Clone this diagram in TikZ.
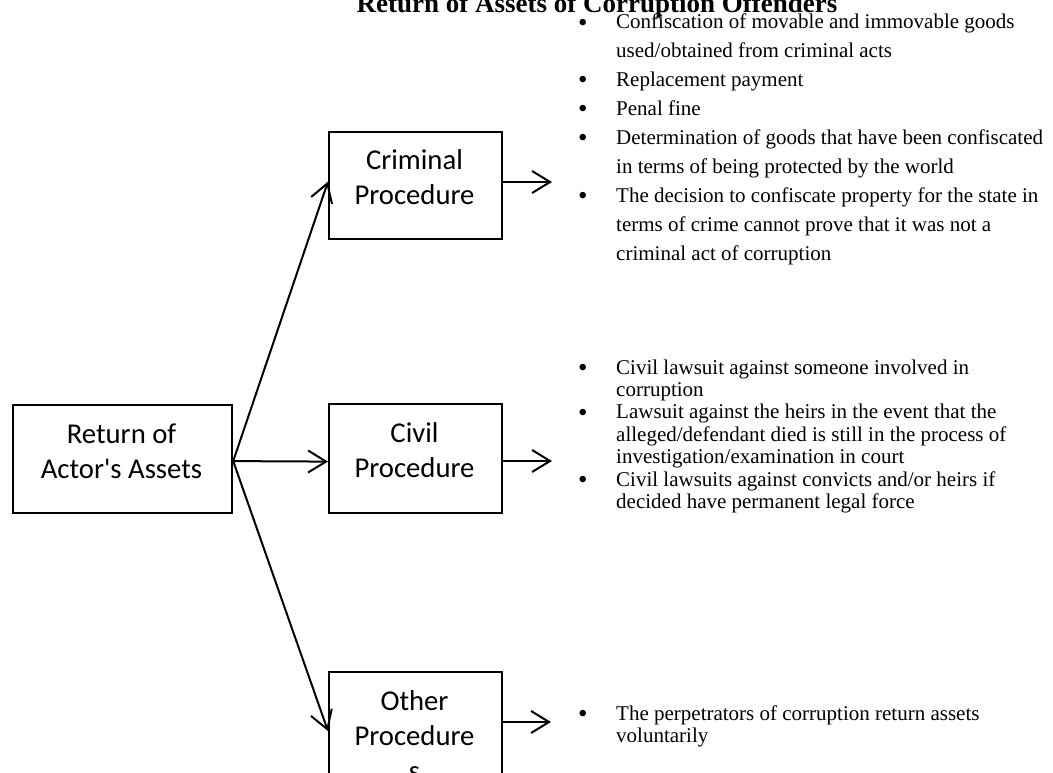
\documentclass[tikz,border=0pt]{standalone}
\usepackage{fontspec}
\setmainfont{Liberation Serif}
\newfontfamily\boxfont{Carlito}
\usetikzlibrary{arrows.meta}
\newcommand{\mybul}{\makebox[38pt][l]{\raisebox{-2.2pt}{\fontsize{27}{27}\selectfont\textbullet}}}
\newcommand{\myind}{\hspace*{38pt}}
\tikzset{
  boxnode/.style={draw, line width=2.2pt, minimum width=173pt, minimum height=107pt, inner sep=0pt, anchor=north west},
  boxlabel/.style={anchor=base, inner sep=0pt, font=\boxfont\fontsize{28.7}{35}\selectfont},
  listwide/.style={anchor=base west, inner sep=0pt, font=\fontsize{21}{28.9}\selectfont},
  listtight/.style={anchor=base west, inner sep=0pt, font=\fontsize{21}{22.4}\selectfont},
  conn/.style={line width=2pt, -{Straight Barb[length=18pt,width=22pt]}},
}
\begin{document}
\begin{tikzpicture}[x=1pt,y=-1pt]
\useasboundingbox (0,0) rectangle (1053,773);
\clip (0,0) rectangle (1053,773);

% title
\node[anchor=base, inner sep=0pt, font=\bfseries\fontsize{27}{32}\selectfont] (title) at (597,12.5) {Return of Assets of Corruption Offenders};

% boxes
\node[boxnode, minimum width=219pt, minimum height=108pt] (ret) at (12,404) {};
\node[boxnode] (crim) at (328,131) {};
\node[boxnode, minimum height=109pt] (civ) at (328,403) {};
\node[boxnode] (oth) at (328,671) {};

% box labels
\node[boxlabel] (retlbl) at (121.5,443) {\begin{tabular}[t]{@{}c@{}}Return of\\Actor's Assets\end{tabular}};
\node[boxlabel] (crimlbl) at (414.5,170) {\begin{tabular}[t]{@{}c@{}}Criminal\\Procedure\end{tabular}};
\node[boxlabel] (civlbl) at (414.5,442) {\begin{tabular}[t]{@{}c@{}}Civil\\Procedure\end{tabular}};
\node[boxlabel] (othlbl) at (414.5,710) {\begin{tabular}[t]{@{}c@{}}Other\\Procedure\\s\end{tabular}};

% bullet lists
\node[listwide] (crimlist) at (578,29) {\begin{tabular}[t]{@{}l@{}}
\mybul Confiscation of movable and immovable goods\\
\myind used/obtained from criminal acts\\
\mybul Replacement payment\\
\mybul Penal fine\\
\mybul Determination of goods that have been confiscated\\
\myind in terms of being protected by the world\\
\mybul The decision to confiscate property for the state in\\
\myind terms of crime cannot prove that it was not a\\
\myind criminal act of corruption
\end{tabular}};

\node[listtight] (civlist) at (578,374) {\begin{tabular}[t]{@{}l@{}}
\mybul Civil lawsuit against someone involved in\\
\myind corruption\\
\mybul Lawsuit against the heirs in the event that the\\
\myind alleged/defendant died is still in the process of\\
\myind investigation/examination in court\\
\mybul Civil lawsuits against convicts and/or heirs if\\
\myind decided have permanent legal force
\end{tabular}};

\node[listtight] (othlist) at (578,720) {\begin{tabular}[t]{@{}l@{}}
\mybul The perpetrators of corruption return assets\\
\myind voluntarily
\end{tabular}};

% arrow tips toward the lists
\coordinate (crimtip) at (552,182);
\coordinate (civtip) at (552,461);
\coordinate (othtip) at (551,722);

% connectors
\draw[conn] ([yshift=-2pt]ret.east) -- ([yshift=4pt]crim.west);
\draw[conn] ([yshift=-2pt]ret.east) -- ([yshift=-3pt]civ.west);
\draw[conn] ([yshift=-2pt]ret.east) -- ([yshift=-5.5pt]oth.west);
\draw[conn] (crim.east |- crimtip) -- (crimtip);
\draw[conn] (civ.east |- civtip) -- (civtip);
\draw[conn] (oth.east |- othtip) -- (othtip);
\end{tikzpicture}
\end{document}
